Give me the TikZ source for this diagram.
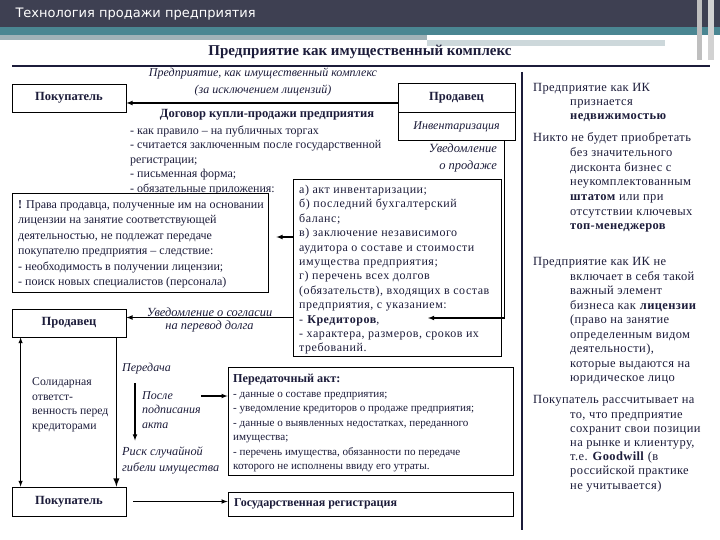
\documentclass[tikz,border=0pt]{standalone}
\usepackage{fontspec}
\setmainfont{Liberation Serif}
\newfontfamily\headfont{DejaVu Sans}
\newfontfamily\docsfont[LetterSpace=4.5]{Liberation Serif}
\newfontfamily\notefont[LetterSpace=3]{Liberation Serif}
\usetikzlibrary{arrows}
\definecolor{ink}{RGB}{28,28,58}
\definecolor{banddark}{RGB}{62,64,82}
\definecolor{bandteal}{RGB}{74,134,146}
\definecolor{bandgray}{RGB}{160,178,184}
\definecolor{bandpale}{RGB}{205,216,219}
\newcommand{\colindent}{\hspace*{37pt}}
\tikzset{
  box/.style={draw=black, line width=0.8pt, fill=white, inner sep=0pt},
  boxlabel/.style={font=\fontsize{12.5}{14}\selectfont\bfseries, text=ink},
  txt/.style={font=\fontsize{12}{14.5}\selectfont, text=ink, align=left, inner sep=0pt, anchor=north west},
  itxt/.style={txt, font=\fontsize{12}{14.5}\selectfont\itshape},
  note/.style={txt, font=\notefont\fontsize{12.5}{14.5}\selectfont},
  conn/.style={-latex, line width=1.1pt},
}

\begin{document}
\begin{tikzpicture}[x=1pt,y=-1pt]
\useasboundingbox (0,0) rectangle (720,540);
% header
\fill[banddark] (0,0) rectangle (720,27);
\fill[bandteal] (0,27) rectangle (720,35);
\fill[bandgray] (0,35) rectangle (427,40);
\fill[bandpale] (427,40) rectangle (665,46);
\fill[gray!50] (697,0) rectangle (702,60);
\fill[gray!35] (708,0) rectangle (714,60);
\node[anchor=west, text=white, font=\headfont\fontsize{13}{15}\selectfont] (title) at (12,14) {Технология продажи предприятия};
\node[font=\bfseries\fontsize{15}{17}\selectfont, text=ink] (head) at (360,52) {Предприятие как имущественный комплекс};
\draw[ink, line width=2pt] (12,66) -- (710,66);
\draw[ink, line width=2pt] (522,72) -- (522,530);

% top row
\node[box, boxlabel, minimum width=114pt, minimum height=28pt] (buyer) at (69,98) {Покупатель};
\node[box, boxlabel, minimum width=117pt, minimum height=29pt] (seller) at (456.5,97.5) {Продавец};
\node[box, minimum width=117pt, minimum height=28pt, anchor=north, font=\fontsize{12}{13}\selectfont\itshape, text=ink] (inv) at (seller.south) {Инвентаризация};
\node[itxt, anchor=north, align=center, font=\fontsize{12}{17}\selectfont\itshape] (asset) at (263,68) {Предприятие, как имущественный комплекс\\(за исключением лицензий)};
\draw[conn] ([yshift=-5.5pt]seller.west) -- ([yshift=-5.5pt]seller.west -| buyer.east);

\node[txt, anchor=north, font=\fontsize{12.5}{14.5}\selectfont\bfseries] (contract) at (267,109) {Договор купли-продажи предприятия};
\node[txt] (terms) at (130,125.5) {- как правило – на публичных торгах\\- считается заключенным после государственной\\регистрации;\\- письменная форма;\\- обязательные приложения:};
\node[itxt, anchor=north east, align=right, font=\fontsize{12.5}{17}\selectfont\itshape] (notice) at (497,144) {Уведомление\\о продаже};

% documents
\node[box, minimum width=208pt, minimum height=177pt] (docs) at (397,267.5) {};
\node[txt, font=\docsfont\fontsize{12}{14.4}\selectfont] (docslist) at (299,185) {а) акт инвентаризации;\\б) последний бухгалтерский\\баланс;\\в) заключение независимого\\аудитора о составе и стоимости\\имущества предприятия;\\г) перечень всех долгов\\(обязательств), входящих в состав\\предприятия, с указанием:\\- \textbf{Кредиторов},\\- характера, размеров, сроков их\\требований.};
\coordinate (kred) at (428,318);
\draw[conn] ([xshift=-11pt]inv.south east) |- (kred);

% licence rights
\node[box, minimum width=256pt, minimum height=99pt] (rights) at (140,242.5) {};
\node[txt, font=\fontsize{12}{15.4}\selectfont] (rightstext) at (18,200.5) {\textbf{!} Права продавца, полученные им на основании\\лицензии на занятие соответствующей\\деятельностью, не подлежат передаче\\покупателю предприятия – следствие:\\- необходимость в получении лицензии;\\- поиск новых специалистов (персонала)};
\draw[conn, shorten >=8pt] ([yshift=30.5pt]docs.west) -- ([yshift=30.5pt]docs.west -| rights.east);

% lower left
\node[box, boxlabel, minimum width=114pt, minimum height=28pt] (seller2) at (69,323) {Продавец};
\node[box, boxlabel, minimum width=114pt, minimum height=29pt] (buyer2) at (69,501.5) {Покупатель};
\draw[conn] ([yshift=-50pt]docs.west) -- ([yshift=-50pt]docs.west -| seller2.east)
  node[midway, anchor=south, inner sep=0pt, yshift=0.5pt, font=\fontsize{12.4}{13}\selectfont\itshape, text=ink] (consent) {Уведомление о согласии}
  node[midway, anchor=north, inner sep=0pt, yshift=-3pt, font=\fontsize{12.4}{13}\selectfont\itshape, text=ink] (debt) {на перевод долга};
\draw[latex-latex, line width=1pt] ([xshift=9pt]seller2.south west) -- ([xshift=9pt]buyer2.north west);
\draw[conn, line width=1.8pt] ([xshift=-10pt]seller2.south east) -- ([xshift=-10pt]buyer2.north east);
\node[txt, font=\fontsize{11.7}{14.7}\selectfont] (joint) at (32,377.5) {Солидарная\\ответст-\\венность перед\\кредиторами};
\node[itxt] (transfer) at (122,363) {Передача};
\node[itxt] (after) at (142,391) {После\\подписания\\акта};
\node[itxt, font=\fontsize{12.3}{16}\selectfont\itshape] (risk) at (122,446.5) {Риск случайной\\гибели имущества};
\draw[conn, shorten <=9pt, shorten >=6pt] ([xshift=13pt]transfer.south west) -- ([xshift=13pt]transfer.south west |- risk.north);

% act and registration
\node[box, minimum width=285pt, minimum height=108pt] (act) at (370.5,421) {};
\node[txt, font=\fontsize{11.1}{14.5}\selectfont] (acttext) at (233,374) {\textbf{\fontsize{12.2}{14.5}\selectfont Передаточный акт:}\\- данные о составе предприятия;\\- уведомление кредиторов о продаже предприятия;\\- данные о выявленных недостатках, переданного\\имущества;\\- перечень имущества, обязанности по передаче\\которого не исполнены ввиду его утраты.};
\draw[conn] ([yshift=-5pt]after.north east) -- ([yshift=-5pt]after.north east -| act.west);
\node[box, minimum width=285pt, minimum height=24pt] (reg) at (370.5,504) {};
\node[txt, anchor=west, font=\fontsize{12}{14.5}\selectfont\bfseries] (regtext) at (234,504) {Государственная регистрация};
\draw[conn, shorten <=7pt] (buyer2.east) -- (buyer2.east -| reg.west);

% right column
\node[note, font=\notefont\fontsize{12.5}{13.8}\selectfont] (note1) at (533,83.5) {Предприятие как ИК\\\colindent признается\\\colindent \textbf{недвижимостью}};
\node[note, font=\notefont\fontsize{12.5}{14.7}\selectfont] (note2) at (533,132.5) {Никто не будет приобретать\\\colindent без значительного\\\colindent дисконта бизнес с\\\colindent неукомплектованным\\\colindent \textbf{штатом} или при\\\colindent отсутствии ключевых\\\colindent \textbf{топ-менеджеров}};
\node[note] (note3) at (533,257.5) {Предприятие как ИК не\\\colindent включает в себя такой\\\colindent важный элемент\\\colindent бизнеса как \textbf{лицензии}\\\colindent (право на занятие\\\colindent определенным видом\\\colindent деятельности),\\\colindent которые выдаются на\\\colindent юридическое лицо};
\node[note, font=\notefont\fontsize{12.5}{14.2}\selectfont] (note4) at (533,395.5) {Покупатель рассчитывает на\\\colindent то, что предприятие\\\colindent сохранит свои позиции\\\colindent на рынке и клиентуру,\\\colindent т.е. \textbf{Goodwill} (в\\\colindent российской практике\\\colindent не учитывается)};
\end{tikzpicture}
\end{document}
